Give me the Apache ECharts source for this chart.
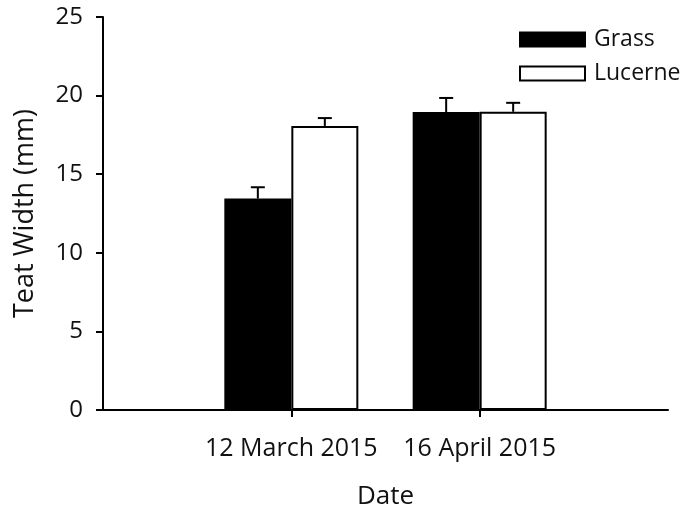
<!DOCTYPE html>
<html><head><meta charset="utf-8">
<script src="https://cdn.jsdelivr.net/npm/echarts@6/dist/echarts.min.js"></script>
<style>html,body{margin:0;padding:0;background:#fff}#c{width:691px;height:510px}</style>
</head><body><div id="c"></div>
<script>
var categories = ['', '12 March 2015', '16 April 2015', ''];
var grass = [null, 13.45, 18.95, null];
var grassErr = [null, 0.72, 0.9, null];
var lucerne = [null, 18.07, 18.97, null];
var lucerneErr = [null, 0.5, 0.57, null];
var yTicks = [0, 5, 10, 15, 20, 25];

var FONT = 'Open Sans';
var BARW = 67;

function errSeries(vals, errs, side) {
  var data = [];
  for (var i = 0; i < vals.length; i++) {
    if (vals[i] != null) data.push([i, vals[i], vals[i] + errs[i]]);
  }
  return {
    type: 'custom',
    silent: true,
    z: 5,
    data: data,
    renderItem: function (params, api) {
      var x = api.value(0);
      var lo = api.coord([x, api.value(1)]);
      var hi = api.coord([x, api.value(2)]);
      var cx = lo[0] + side * BARW / 2;
      var cap = 7;
      return {
        type: 'group',
        children: [
          { type: 'line', shape: { x1: cx, y1: lo[1], x2: cx, y2: hi[1] }, style: { stroke: '#000', lineWidth: 2 } },
          { type: 'line', shape: { x1: cx - cap, y1: hi[1], x2: cx + cap, y2: hi[1] }, style: { stroke: '#000', lineWidth: 2 } }
        ]
      };
    }
  };
}

var chart = echarts.init(document.getElementById('c'));
chart.setOption({
  animation: false,
  backgroundColor: '#fff',
  textStyle: { fontFamily: FONT },
  grid: { left: 103, right: 23, top: 17, bottom: 100, containLabel: false, outerBoundsMode: 'none' },
  legend: {
    orient: 'vertical',
    left: 514,
    top: 23,
    icon: 'rect',
    itemWidth: 65,
    itemHeight: 14,
    itemGap: 11,
    textStyle: { fontFamily: FONT, fontSize: 23, color: '#111', padding: [0, 0, 0, 4] },
    data: [
      { name: 'Grass', itemStyle: { color: '#000', borderColor: '#000', borderWidth: 2 } },
      { name: 'Lucerne', itemStyle: { color: '#fff', borderColor: '#000', borderWidth: 2 } }
    ]
  },
  xAxis: {
    type: 'category',
    data: categories,
    boundaryGap: false,
    name: 'Date',
    nameLocation: 'middle',
    nameGap: 74,
    nameTextStyle: { fontFamily: FONT, fontSize: 26, color: '#111' },
    axisLine: { lineStyle: { color: '#000', width: 2 } },
    axisTick: { show: true, length: 7, lineStyle: { color: '#000', width: 2 },
      interval: function (i) { return i === 1 || i === 2; } },
    axisLabel: { fontFamily: FONT, fontSize: 25, color: '#111', margin: 26, interval: 0 },
    splitLine: { show: false }
  },
  yAxis: {
    type: 'value',
    min: 0, max: 25, interval: 5,
    name: 'Teat Width (mm)',
    nameLocation: 'middle',
    nameGap: 64,
    nameTextStyle: { fontFamily: FONT, fontSize: 27, color: '#111' },
    axisLine: { show: true, lineStyle: { color: '#000', width: 2 } },
    axisTick: { show: true, length: 7, lineStyle: { color: '#000', width: 2 } },
    axisLabel: { fontFamily: FONT, fontSize: 24, color: '#111', margin: 20,
      formatter: function (v) { return yTicks.indexOf(v) >= 0 ? String(v) : ''; } },
    splitLine: { show: false }
  },
  series: [
    { name: 'Grass', type: 'bar', data: grass, barWidth: BARW, barGap: '0%',
      itemStyle: { color: '#000', borderColor: '#000', borderWidth: 2 } },
    { name: 'Lucerne', type: 'bar', data: lucerne, barWidth: BARW, barGap: '0%',
      itemStyle: { color: '#fff', borderColor: '#000', borderWidth: 2 } },
    errSeries(grass, grassErr, -1),
    errSeries(lucerne, lucerneErr, 1)
  ]
});
</script></body></html>
